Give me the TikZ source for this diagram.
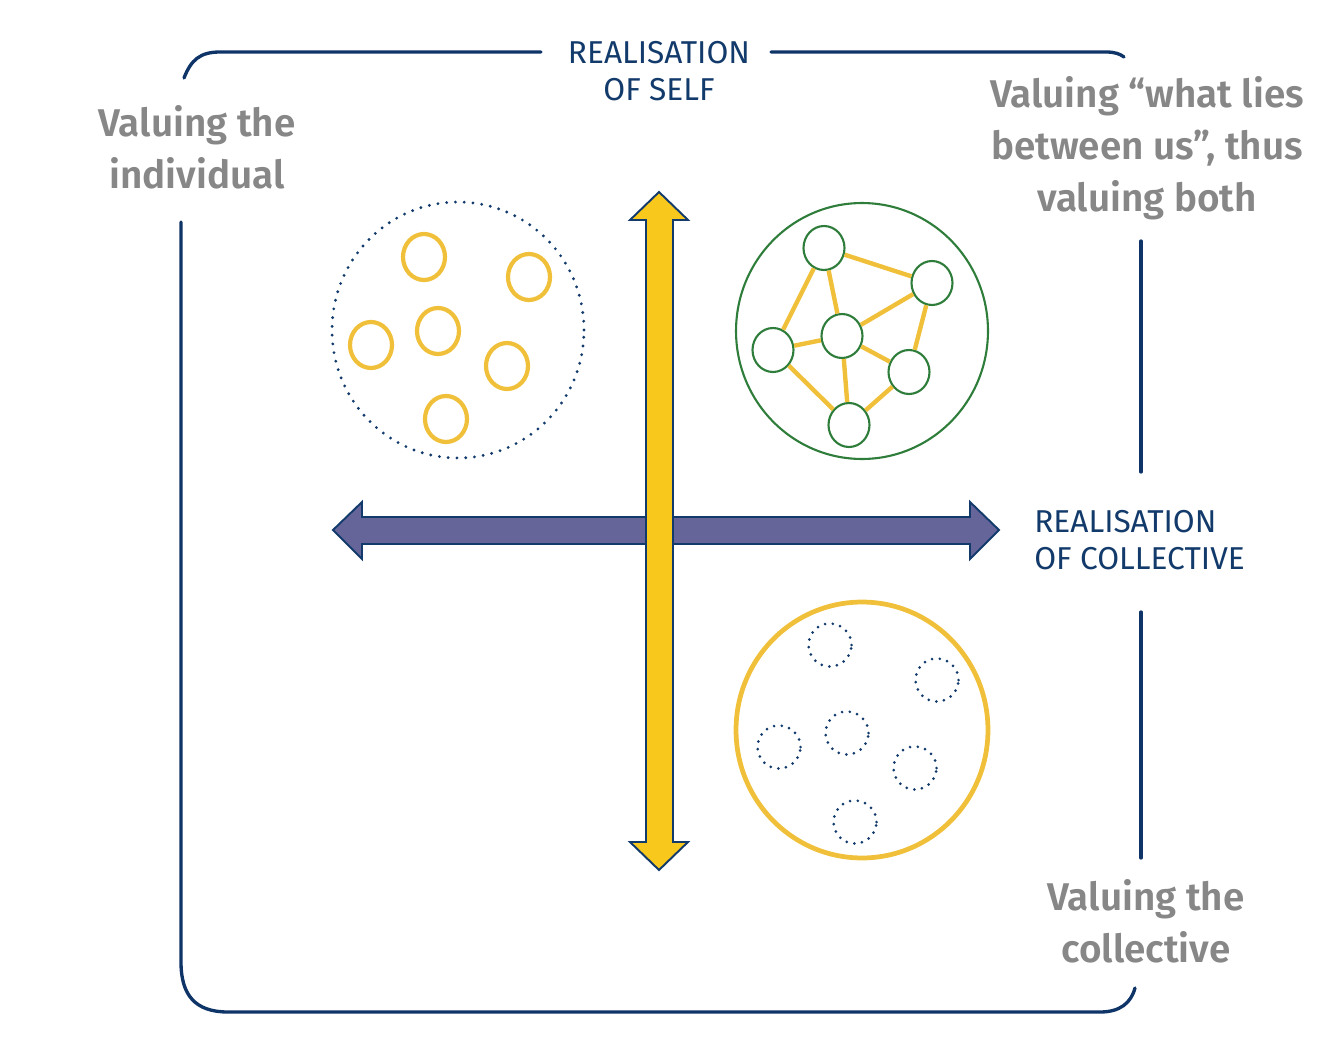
\documentclass[tikz,border=0pt]{standalone}
\usepackage{fontspec}
\setmainfont{Fira Sans}[BoldFont={Fira Sans SemiBold}]
\usetikzlibrary{shapes.geometric, positioning}
\definecolor{navy}  {HTML}{123A6B}
\definecolor{framec}{HTML}{0E3468}
\definecolor{greytx}{HTML}{878787}
\definecolor{gold}  {HTML}{F0C03A}
\definecolor{amber} {HTML}{F9C81C}
\definecolor{slate} {HTML}{65659A}
\definecolor{forest}{HTML}{2F7D3B}
\tikzset{
  frame/.style  = {draw=framec, line width=1.9pt, line cap=round},
  axis/.style   = {draw=navy, line width=1.1pt, line join=miter},
  group/.style  = {ellipse, minimum width=5.04cm, minimum height=5.12cm, inner sep=0pt},
  loose/.style  = {group, draw=navy, line width=1.8pt, line cap=round,
                   dash pattern=on 0pt off 5pt},
  bonded/.style = {group, draw=forest, line width=1.2pt},
  merged/.style = {group, draw=gold, line width=2.7pt},
  ring/.style   = {ellipse, draw=gold, line width=2.4pt, inner sep=0pt,
                   minimum width=0.84cm, minimum height=0.92cm},
  member/.style = {ellipse, draw=forest, line width=1.2pt, fill=white, inner sep=0pt,
                   minimum width=0.82cm, minimum height=0.88cm},
  ghost/.style  = {circle, draw=navy, line width=1.7pt, line cap=round,
                   dash pattern=on 0pt off 4.4pt, minimum size=0.86cm, inner sep=0pt},
  link/.style   = {draw=gold, line width=2.5pt},
  value/.style  = {font=\bfseries\fontsize{22}{29.5}\selectfont, text=greytx, align=center},
  pole/.style   = {font=\fontsize{18}{21}\selectfont, text=navy},
}

\begin{document}
\begin{tikzpicture}[x=0.02cm, y=-0.02cm]
  \useasboundingbox (0,0) rectangle (1336,1058);

  % frame
  \draw[frame] (184,78) .. controls (191,60) and (200,52) .. (220,52) -- (541,52);
  \draw[frame] (771,52) -- (1106,52) .. controls (1115,52) and (1120,54) .. (1124,57);
  \draw[frame] (181,222) -- (181,962) .. controls (181,995) and (195,1012) .. (228,1012)
    -- (1100,1012) .. controls (1120,1012) and (1131,1003) .. (1135,988);
  \draw[frame] (1141,241) -- (1141,472);
  \draw[frame] (1141,612) -- (1141,858);

  % axes
  \draw[axis, fill=slate] (333,530) -- (362,502) -- (362,517) -- (970,517) -- (970,502)
    -- (999,530) -- (970,559) -- (970,544) -- (362,544) -- (362,559) -- cycle;
  \draw[axis, fill=amber] (659,192) -- (688,220) -- (673,220) -- (673,842) -- (688,842)
    -- (659,870) -- (630,842) -- (646,842) -- (646,220) -- (630,220) -- cycle;

  \node[loose]  (scatter) at (458,330) {};
  \node[bonded] (network) at (862,331) {};
  \node[merged] (mass)    at (862,730) {};

  \foreach \n/\x/\y in {1/424/257, 2/529/277, 3/438/331, 4/371/345, 5/507/366, 6/446/419}
    \node[ring] (r\n) at (\x,\y) {};

  \foreach \n/\x/\y in {1/824/248, 2/932/283, 3/842/336, 4/773/350, 5/909/372, 6/849/425}
    \node[member] (p\n) at (\x,\y) {};
  \foreach \a/\b in {p1/p2, p1/p3, p1/p4, p2/p3, p2/p5, p3/p4, p3/p5, p3/p6, p4/p6, p5/p6}
    \draw[link] (\a) -- (\b);

  \foreach \n/\x/\y in {1/830/645, 2/937/680, 3/847/733, 4/779/747, 5/915/768, 6/855/822}
    \node[ghost] (g\n) at (\x,\y) {};

  \node[pole, align=center] (self) at (659,71) {REALISATION\\OF SELF};
  \node[pole, align=left, anchor=west, inner sep=0pt] (collect) at (1034,540)
    {REALISATION\\OF COLLECTIVE};

  \node[value] (indiv) at (197,147) {Valuing the\\individual};
  \node[value] (both)  at (1147,148) {Valuing “what lies\\between us”, thus\\valuing both};
  \node[value] (whole) at (1146,921) {Valuing the\\collective};

\end{tikzpicture}
\end{document}
